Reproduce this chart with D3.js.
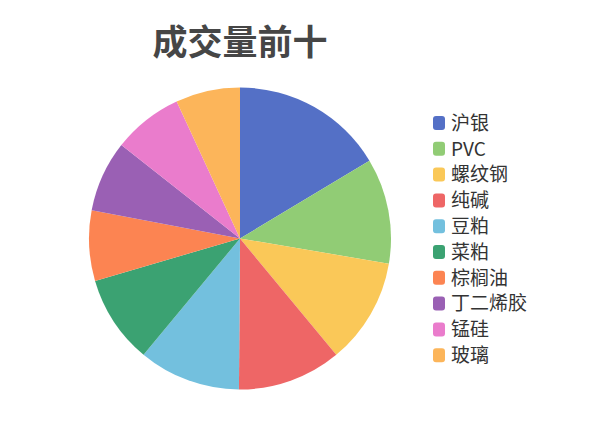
<!DOCTYPE html>
<html>
<head>
<meta charset="utf-8">
<script src="https://cdn.jsdelivr.net/npm/d3@7"></script>
<style>
  html, body { margin: 0; padding: 0; background: #fff; }
  svg text { font-family: "Noto Sans CJK SC", "Noto Sans", sans-serif; }
</style>
</head>
<body>
<svg id="chart" width="600" height="428"></svg>
<script>
const titleText = "成交量前十";
const categories = ["沪银", "PVC", "螺纹钢", "纯碱", "豆粕", "菜粕", "棕榈油", "丁二烯胶", "锰硅", "玻璃"];
const values = [59.0, 40.6, 40.8, 40.0, 39.3, 34.0, 27.1, 27.4, 27.0, 24.8];
const colors = ["#5470c6", "#91cc75", "#fac858", "#ee6666", "#73c0de", "#3ba272", "#fc8452", "#9a60b4", "#ea7ccc", "#fcb55a"];

const svg = d3.select("#chart");
const cx = 240, cy = 238.5, r = 151;

svg.append("text")
  .attr("x", 240).attr("y", 55)
  .attr("text-anchor", "middle")
  .attr("font-size", 35)
  .attr("font-weight", "bold")
  .attr("fill", "#464646")
  .text(titleText);

const data = categories.map((c, i) => ({ name: c, value: values[i] }));
const color = d3.scaleOrdinal().domain(categories).range(colors);
const pie = d3.pie().value(d => d.value).sort(null);
const arc = d3.arc().innerRadius(0).outerRadius(r);

svg.append("g").attr("transform", `translate(${cx},${cy})`)
  .selectAll("path").data(pie(data)).join("path")
  .attr("d", arc)
  .attr("fill", d => color(d.data.name));

const legend = svg.append("g").attr("transform", "translate(433,123)");
const step = 25.8;
const items = legend.selectAll("g").data(categories).join("g")
  .attr("transform", (d, i) => `translate(0,${i * step})`);
items.append("rect")
  .attr("x", 0).attr("y", -7).attr("width", 12).attr("height", 14)
  .attr("rx", 3).attr("ry", 3)
  .attr("fill", d => color(d));
items.append("text")
  .attr("x", 18).attr("y", 0)
  .attr("dy", "0.36em")
  .attr("font-size", 19)
  .attr("fill", "#333")
  .text(d => d);
</script>
</body>
</html>
